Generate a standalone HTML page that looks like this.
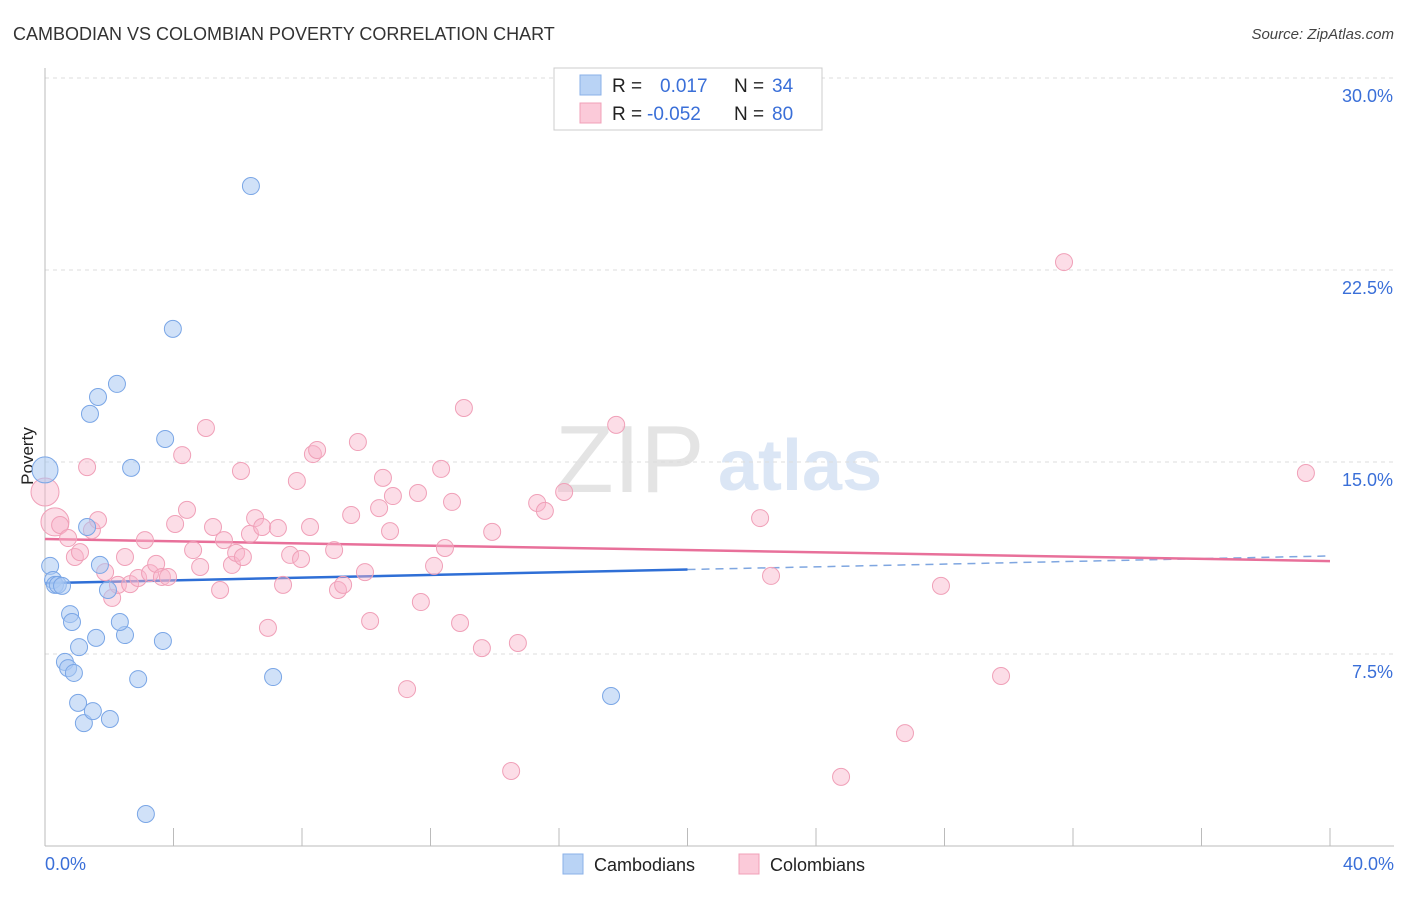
<!DOCTYPE html>
<html><head><meta charset="utf-8"><style>
body{margin:0;background:#fff;font-family:"Liberation Sans",sans-serif}
svg text{font-family:"Liberation Sans",sans-serif}
</style></head><body>
<svg id="chart" width="1406" height="892" viewBox="0 0 1406 892" xmlns="http://www.w3.org/2000/svg">
<text x="13" y="40" font-size="18" fill="#333">CAMBODIAN VS COLOMBIAN POVERTY CORRELATION CHART</text>
<text x="1394" y="39" font-size="15" fill="#444" text-anchor="end" font-style="italic">Source: ZipAtlas.com</text>
<text x="555" y="492" font-size="96" fill="#e4e4e4" font-family="Liberation Serif">ZIP</text>
<text x="718" y="490" font-size="72" fill="#dbe6f5" font-weight="bold">atlas</text>
<g id="grid"></g>
<line x1="45" y1="68" x2="45" y2="846" stroke="#bbb"/>
<line x1="45" y1="846" x2="1394" y2="846" stroke="#bbb"/>
<text transform="translate(33,456) rotate(-90)" font-size="17" fill="#222" text-anchor="middle">Poverty</text>
<text x="45" y="870" font-size="18" fill="#3a6fd8">0.0%</text>
<text x="1394" y="870" font-size="18" fill="#3a6fd8" text-anchor="end">40.0%</text>
<g id="lines"></g>
<g id="points"></g>
<g>
<rect x="554" y="68" width="268" height="62" fill="#fff" stroke="#ccc"/>
<rect x="580" y="75" width="21" height="20" fill="#b9d3f5" stroke="#8ab0e8"/>
<rect x="580" y="103" width="21" height="20" fill="#fbcad9" stroke="#f0a0b8"/>
<text x="612" y="92" font-size="19" fill="#222">R =</text>
<text x="660" y="92" font-size="19" fill="#3a6fd8">0.017</text>
<text x="734" y="92" font-size="19" fill="#222">N =</text>
<text x="772" y="92" font-size="19" fill="#3a6fd8">34</text>
<text x="612" y="120" font-size="19" fill="#222">R =</text>
<text x="647" y="120" font-size="19" fill="#3a6fd8">-0.052</text>
<text x="734" y="120" font-size="19" fill="#222">N =</text>
<text x="772" y="120" font-size="19" fill="#3a6fd8">80</text>
</g>
<g><rect x="563" y="854" width="20" height="20" fill="#b9d3f5" stroke="#8ab0e8"/><text x="594" y="871" font-size="18" fill="#222">Cambodians</text></g>
<g><rect x="739" y="854" width="20" height="20" fill="#fbcad9" stroke="#f0a0b8"/><text x="770" y="871" font-size="18" fill="#222">Colombians</text></g>
</svg>
<script>
const yTicks=[7.5,15,22.5,30];
const yTickLabels=["7.5%","15.0%","22.5%","30.0%"];
const xTicks=[0,4,8,12,16,20,24,28,32,36,40];
const camX=[0,0.16,0.25,0.31,0.4,0.53,0.78,0.84,1.06,0.62,0.72,0.9,1.03,1.21,1.49,2.02,1.59,2.49,2.33,1.71,1.96,1.31,1.4,1.65,2.24,2.68,3.74,3.98,6.41,3.67,2.9,7.1,17.62,3.14];
const camY=[14.69,10.94,10.39,10.2,10.2,10.16,9.06,8.75,7.77,7.19,6.95,6.76,5.59,4.8,5.27,4.96,8.13,8.24,8.75,10.98,10.0,12.46,16.88,17.54,18.05,14.77,15.9,20.2,25.78,8.01,6.52,6.6,5.86,1.25];
const colX=[0,0.31,0.47,0.72,0.93,1.09,1.31,1.46,1.65,1.87,2.09,2.27,2.49,2.65,2.9,3.11,3.27,3.46,3.64,3.83,4.05,4.27,4.42,4.61,4.83,5.01,5.23,5.45,5.57,5.82,5.95,6.16,6.1,6.38,6.54,6.76,6.94,7.25,7.41,7.63,7.84,7.97,8.25,8.34,8.47,9.0,9.12,9.28,9.53,9.74,9.96,10.12,10.4,10.52,10.74,10.83,11.27,11.61,11.7,12.11,12.33,12.45,12.67,12.92,13.04,13.6,13.92,14.51,14.72,15.32,15.56,16.16,17.78,22.26,22.6,24.78,26.77,27.89,29.76,31.72,39.25];
const colY=[13.83,12.66,12.54,12.03,11.29,11.48,14.8,12.34,12.73,10.7,9.69,10.2,11.29,10.23,10.47,11.95,10.66,11.02,10.51,10.51,12.58,15.27,13.13,11.56,10.9,16.33,12.46,10.0,11.95,10.98,11.45,11.29,14.65,12.19,12.81,12.46,8.52,12.42,10.2,11.37,14.26,11.21,12.46,15.31,15.47,11.56,10.0,10.2,12.93,15.78,10.7,8.79,13.2,14.38,12.3,13.67,6.13,13.79,9.53,10.94,14.73,11.64,13.44,8.71,17.11,7.73,12.27,2.93,7.93,13.4,13.09,13.83,16.45,12.81,10.55,2.7,4.41,10.16,6.64,22.81,14.57];
const camTrend=[10.27,11.33];
const colTrend=[11.99,11.13];
const NS="http://www.w3.org/2000/svg";
const sx=v=>45+v*(1285/40);
const sy=v=>846-v*25.6;
function mk(t,a,p){const e=document.createElementNS(NS,t);for(const k in a)e.setAttribute(k,a[k]);p.appendChild(e);return e;}
const grid=document.getElementById('grid');
yTicks.forEach((t,i)=>{
 const l=mk('line',{x1:45,x2:1394,y1:sy(t),y2:sy(t),stroke:'#ddd','stroke-dasharray':'4,4'},grid);
 
 
 const tx=mk('text',{x:1393,y:sy(t)+24,'font-size':18,fill:'#3a6fd8','text-anchor':'end'},grid);
 tx.textContent=yTickLabels[i];
 
 
});
xTicks.forEach(t=>{
 const l=mk('line',{x1:sx(t),x2:sx(t),y1:828,y2:846,stroke:'#bbb'},grid);
 
 
});
const lines=document.getElementById('lines');
const mid=camTrend[0]+(camTrend[1]-camTrend[0])*0.5;
const b1=mk('line',{x1:sx(0),y1:sy(camTrend[0]),x2:sx(20),y2:sy(mid),stroke:'#2f6fd6','stroke-width':2.5},lines);


const b2=mk('line',{x1:sx(20),y1:sy(mid),x2:sx(40),y2:sy(camTrend[1]),stroke:'#7fa6e0','stroke-width':1.5,'stroke-dasharray':'8,6'},lines);


const p1=mk('line',{x1:sx(0),y1:sy(colTrend[0]),x2:sx(40),y2:sy(colTrend[1]),stroke:'#e8709a','stroke-width':2.5},lines);


const pts=document.getElementById('points');
colX.forEach((x,i)=>{
 const r=i<2?14:8.5;
 const c=mk('circle',{cx:sx(x),cy:sy(colY[i]),r:r,fill:'rgba(248,180,202,0.45)',stroke:'#f0a0b8','stroke-width':1},pts);
 
 
});
camX.forEach((x,i)=>{
 const r=i===0?13:8.5;
 const c=mk('circle',{cx:sx(x),cy:sy(camY[i]),r:r,fill:'rgba(170,200,242,0.55)',stroke:'#7aa6e6','stroke-width':1},pts);
 
 
});
</script>
</body></html>
